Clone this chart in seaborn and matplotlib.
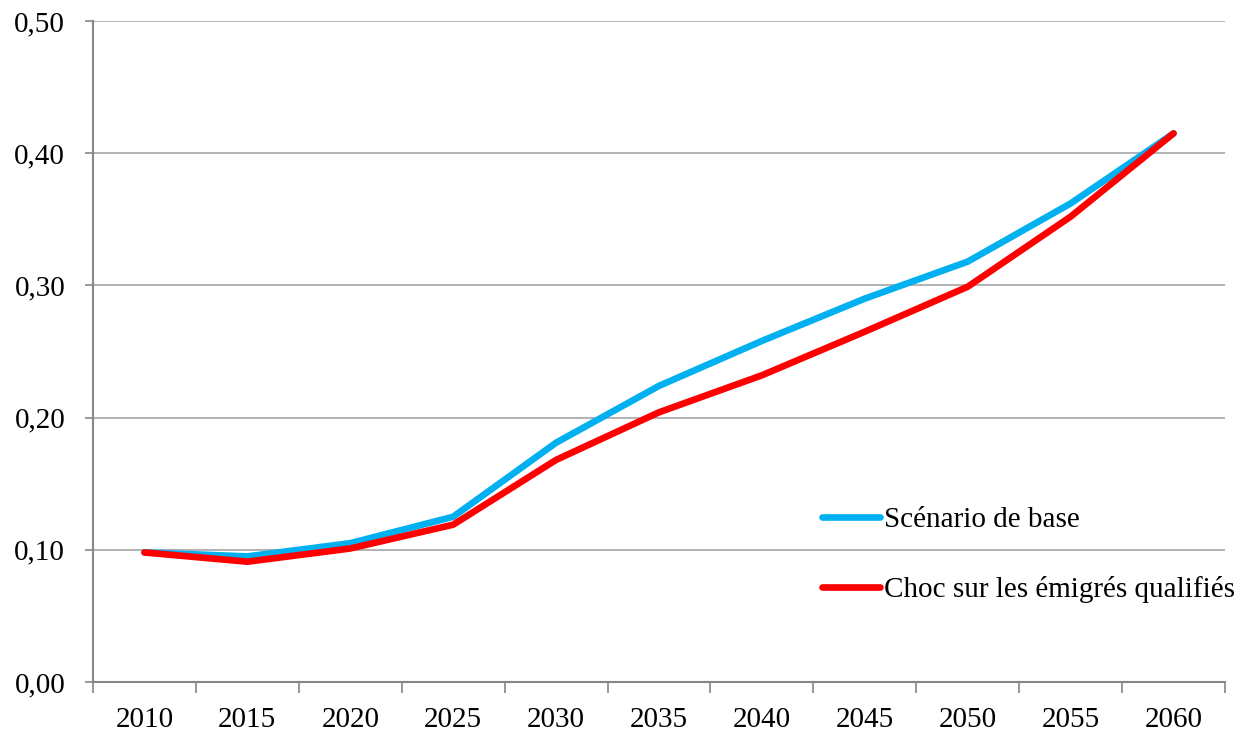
import matplotlib
matplotlib.use("Agg")
import matplotlib.pyplot as plt
import seaborn as sns
import pandas as pd
import numpy as np
from matplotlib.ticker import FixedLocator, FuncFormatter

years = ["2010", "2015", "2020", "2025", "2030", "2035", "2040", "2045", "2050", "2055", "2060"]
base = [0.098, 0.095, 0.105, 0.125, 0.181, 0.224, 0.258, 0.290, 0.318, 0.362, 0.415]
choc = [0.098, 0.091, 0.101, 0.119, 0.168, 0.204, 0.232, 0.265, 0.299, 0.352, 0.415]
series_names = ["Scénario de base", "Choc sur les émigrés qualifiés"]
y_ticks = [0.0, 0.1, 0.2, 0.3, 0.4, 0.5]

sns.set_theme(style="white")
plt.rcParams['font.family'] = ['Liberation Serif', 'DejaVu Serif']
plt.rcParams['text.color'] = 'black'

df = pd.DataFrame({
    "pos": list(range(len(years))) * 2,
    "value": base + choc,
    "series": [series_names[0]] * len(years) + [series_names[1]] * len(years),
})

fig = plt.figure(figsize=(12.41, 7.34), dpi=100)
ax = fig.add_axes([93 / 1241, 1 - 682 / 734, (1225 - 93) / 1241, (682 - 21) / 734])

palette = {series_names[0]: "#00B0F0", series_names[1]: "#FF0000"}
lw = 4.8
sns.lineplot(data=df, x="pos", y="value", hue="series", palette=palette,
             linewidth=lw, ax=ax, legend=False, solid_capstyle="round")

ax.set_xlim(-0.5, len(years) - 0.5)
ax.set_ylim(0, 0.5)
ax.set_xlabel("")
ax.set_ylabel("")

fs = 21
ax.xaxis.set_major_locator(FixedLocator(range(len(years))))
ax.set_xticklabels(years)
ax.xaxis.set_minor_locator(FixedLocator(np.arange(-0.5, len(years), 1.0)))
ax.tick_params(axis="x", which="major", length=0, pad=18, labelsize=fs, colors="black")
ax.tick_params(axis="x", which="minor", length=8, width=1.2, color="#868686", direction="out", bottom=True)

ax.yaxis.set_major_locator(FixedLocator(y_ticks))
ax.yaxis.set_major_formatter(FuncFormatter(lambda v, p: f"{v:.2f}".replace(".", ",")))
ax.tick_params(axis="y", which="major", length=6, width=1.2, color="#868686", direction="out", left=True,
               labelsize=fs, labelcolor="black", pad=14)

ax.grid(axis="y", color="#A6A6A6", linewidth=1.2)
ax.grid(axis="x", visible=False)
ax.set_axisbelow(True)

for s in ["top", "right"]:
    ax.spines[s].set_visible(False)
for s in ["left", "bottom"]:
    ax.spines[s].set_color("#868686")
    ax.spines[s].set_linewidth(1.5)

handles = [plt.Line2D([], [], color=palette[n], linewidth=lw, solid_capstyle="round") for n in series_names]
fig.legend(handles, series_names, loc="upper left", bbox_to_anchor=(822 / 1241, 1 - 507 / 734),
           frameon=False, fontsize=fs, handlelength=2.0, handletextpad=0.12,
           labelspacing=1.45, borderpad=0, borderaxespad=0, labelcolor="black")

fig.savefig("out.png", dpi=100, facecolor="white")
